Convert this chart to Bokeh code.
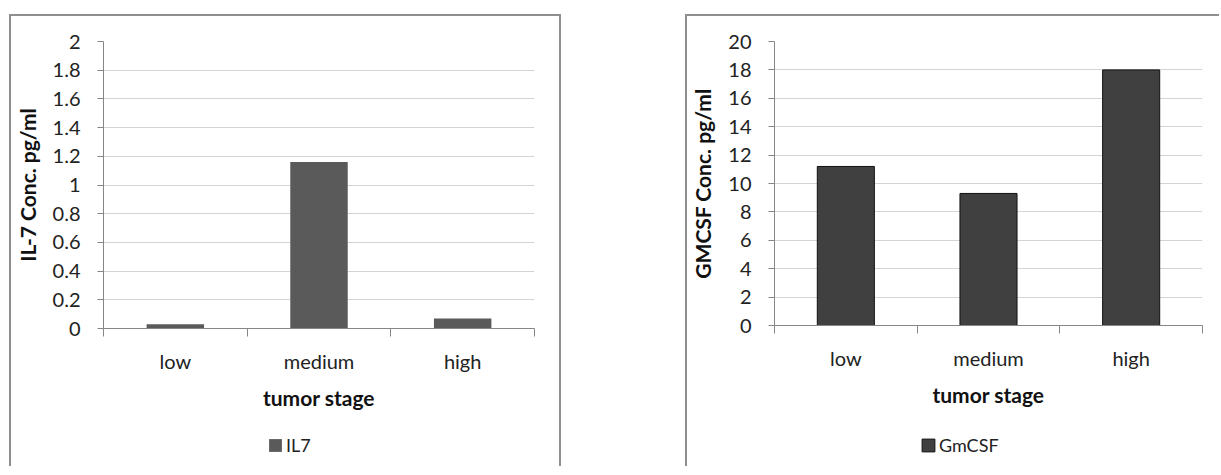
from bokeh.plotting import figure
from bokeh.layouts import row, column
from bokeh.models import (Range1d, FixedTicker, NumeralTickFormatter, Legend,
                          LegendItem, ColumnDataSource)
from bokeh.embed import file_html
from bokeh.resources import INLINE

categories = ["low", "medium", "high"]
il7_values = [0.03, 1.16, 0.07]
gmcsf_values = [11.2, 9.3, 18.0]
il7_yticks = [0, 0.2, 0.4, 0.6, 0.8, 1, 1.2, 1.4, 1.6, 1.8, 2]
gmcsf_yticks = [0, 2, 4, 6, 8, 10, 12, 14, 16, 18, 20]
x_title = "tumor stage"
il7_ytitle = "IL-7 Conc. pg/ml"
gmcsf_ytitle = "GMCSF Conc. pg/ml"
il7_legend = "IL7"
gmcsf_legend = "GmCSF"

FONT = "Lato"
BORDER = "2px solid #8f8f8f"


def make_panel(values, yticks, ytitle, legend_label, fill, line, width,
               mb_left, mb_right, mb_bottom, legend_x, right_border):
    n = len(categories)
    centers = [i + 0.5 for i in range(n)]
    p = figure(width=width, height=402, output_backend="svg", toolbar_location=None,
               x_range=Range1d(0, n), y_range=Range1d(yticks[0], yticks[-1]),
               min_border_left=mb_left, min_border_right=mb_right,
               min_border_top=25, min_border_bottom=mb_bottom)
    p.outline_line_color = None
    p.background_fill_color = "white"
    p.border_fill_color = "white"
    src = ColumnDataSource(dict(x=centers, top=values))
    p.vbar(x="x", top="top", bottom=0, width=0.4, source=src,
           fill_color=fill, line_color=line, line_width=1)

    xa = p.xaxis[0]
    xa.ticker = FixedTicker(ticks=centers, minor_ticks=list(range(n + 1)))
    xa.major_label_overrides = {c: lab for c, lab in zip(centers, categories)}
    xa.major_tick_out = 0
    xa.major_tick_in = 0
    xa.minor_tick_out = 8
    xa.minor_tick_in = 0
    xa.minor_tick_line_color = "#868686"
    xa.axis_line_color = "#868686"
    xa.major_label_standoff = 12
    xa.major_label_text_font = FONT
    xa.major_label_text_font_size = "20px"
    xa.major_label_text_color = "#222222"
    xa.axis_label = x_title
    xa.axis_label_text_font = FONT
    xa.axis_label_text_font_style = "bold"
    xa.axis_label_text_font_size = "21px"
    xa.axis_label_text_color = "#111111"
    xa.axis_label_standoff = 9

    ya = p.yaxis[0]
    ya.ticker = FixedTicker(ticks=yticks, minor_ticks=[])
    ya.formatter = NumeralTickFormatter(format="0.[0]")
    ya.major_tick_out = 6
    ya.major_tick_in = 0
    ya.major_tick_line_color = "#868686"
    ya.axis_line_color = "#868686"
    ya.major_label_standoff = 17
    ya.major_label_text_font = FONT
    ya.major_label_text_font_size = "20px"
    ya.major_label_text_color = "#222222"
    ya.axis_label = ytitle
    ya.axis_label_text_font = FONT
    ya.axis_label_text_font_style = "bold"
    ya.axis_label_text_font_size = "21px"
    ya.axis_label_text_color = "#111111"
    ya.axis_label_standoff = 10

    p.xgrid.grid_line_color = None
    p.ygrid.grid_line_color = "#d4d4d4"
    p.ygrid.ticker = FixedTicker(ticks=yticks[1:])

    top_css = {"border-left": BORDER, "border-top": BORDER}
    bot_css = {"border-left": BORDER}
    if right_border:
        top_css["border-right"] = BORDER
        bot_css["border-right"] = BORDER
    p.styles = top_css

    # legend strip below the chart: its bar renderer is hidden and only
    # supplies the legend key
    lg = figure(width=width, height=50, output_backend="svg", toolbar_location=None,
                x_range=Range1d(0, n), y_range=Range1d(yticks[0], yticks[-1]),
                x_axis_type=None, y_axis_type=None,
                min_border_left=0, min_border_right=0,
                min_border_top=0, min_border_bottom=0)
    lg.outline_line_color = None
    lg.xgrid.visible = False
    lg.ygrid.visible = False
    lg.border_fill_color = "white"
    lg.background_fill_color = "white"
    lr = lg.vbar(x="x", top="top", bottom=0, width=0.4, source=src,
                 fill_color=fill, line_color=line, line_width=1)
    lr.visible = False
    leg = Legend(items=[LegendItem(label=legend_label, renderers=[lr])],
                 location=(legend_x, 10), orientation="horizontal",
                 padding=0, margin=0, spacing=0, label_standoff=3,
                 glyph_width=16, glyph_height=16,
                 label_text_font=FONT, label_text_font_size="18px",
                 label_text_color="#222222",
                 inactive_fill_alpha=0,
                 border_line_color=None, background_fill_alpha=0)
    lg.add_layout(leg, "center")
    lg.styles = bot_css
    return column(p, lg, spacing=0)


c1 = make_panel(il7_values, il7_yticks, il7_ytitle, il7_legend,
                "#5a5a5a", None, 552, 92, 29, 90, 164, True)
c1.margin = (14, 0, 0, 9)

c2 = make_panel(gmcsf_values, gmcsf_yticks, gmcsf_ytitle, gmcsf_legend,
                "#404040", "#111111", 534, 86, 19, 93, 146, False)
c2.margin = (14, 0, 0, 124)

layout = row(c1, c2)
open("out.html", "w").write(file_html(layout, INLINE))
